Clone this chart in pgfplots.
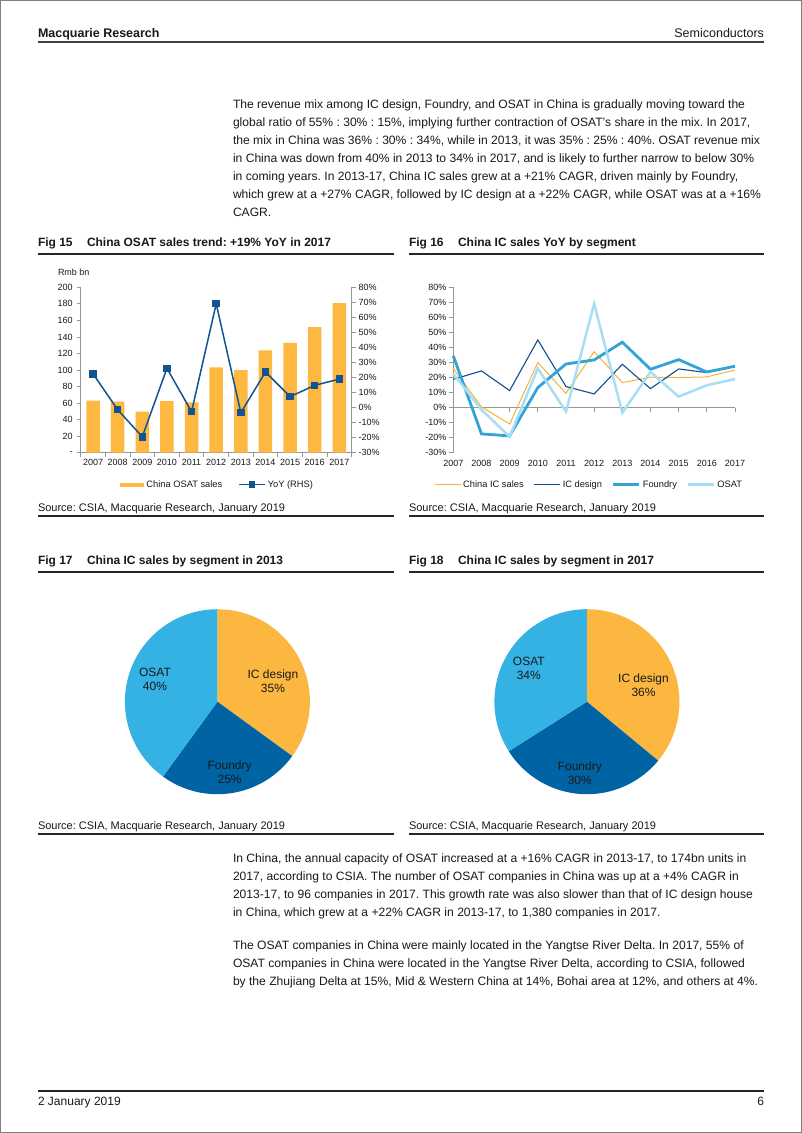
\documentclass[border=0pt]{standalone}
\usepackage{fontspec}
\setmainfont{Liberation Sans}
\usepackage{pgfplots}
\usepackage{pgfplotstable}
\pgfplotsset{compat=1.18}
\frenchspacing

\definecolor{barorange}{RGB}{252,184,64}
\definecolor{yoyblue}{RGB}{18,84,145}
\definecolor{icsorange}{RGB}{246,178,60}
\definecolor{icdblue}{RGB}{18,78,140}
\definecolor{fdyblue}{RGB}{50,165,215}
\definecolor{osatblue}{RGB}{165,222,245}
\definecolor{pieorange}{RGB}{252,183,64}
\definecolor{piedark}{RGB}{0,99,163}
\definecolor{pielight}{RGB}{52,178,228}
\definecolor{axgray}{RGB}{150,150,150}
\definecolor{txt}{RGB}{25,25,25}

\pgfplotstableread{
year sales yoy
2007 62.9 22.5
2008 61.7 -1.4
2009 49.6 -19.4
2010 62.5 26.1
2011 60.9 -2.7
2012 103.2 69.1
2013 100.0 -3.4
2014 123.8 23.7
2015 132.7 7.3
2016 152.0 14.8
2017 181.0 19.0
}\osattab

\pgfplotstableread{
year ics icd fdy osat
2007 26.0 18.8 34.4 22.5
2008 0.5 24.4 -17.5 -1.4
2009 -10.9 11.3 -18.8 -19.4
2010 30.0 45.0 13.3 26.1
2011 9.5 14.0 29.0 -2.7
2012 37.2 9.1 31.7 69.1
2013 16.6 28.8 43.5 -3.4
2014 20.2 12.6 25.5 23.7
2015 20.0 25.7 31.9 7.3
2016 20.4 23.3 23.7 14.8
2017 25.0 27.9 27.5 19.0
}\segtab

\newcommand{\bodyfont}{\fontsize{12.1}{18}\selectfont}
\newcommand{\titlefont}{\fontsize{12}{14}\selectfont\bfseries}
\newcommand{\srcfont}{\fontsize{11}{13}\selectfont}
\newcommand{\tickfont}{\fontsize{9}{11}\selectfont}
\newcommand{\legfont}{\fontsize{9.3}{11}\selectfont}

\pgfplotsset{
  commonax/.style={
    scale only axis,
    tick label style={font=\tickfont, text=txt},
    axis line style={axgray, line width=0.8pt},
    tick style={axgray, line width=0.8pt},
    tick align=outside,
    major tick length=4pt,
    minor tick length=4pt,
  },
}

\begin{document}
\begin{tikzpicture}[x=1pt,y=1pt, every node/.style={inner sep=0pt, outer sep=0pt, text=txt}]
% page
\fill[white] (0,0) rectangle (802,-1133);
\draw[gray, line width=1pt] (0.5,-0.5) rectangle (801.5,-1132.5);

% header
\node[anchor=base west, font=\fontsize{12.5}{14}\selectfont\bfseries] at (38,-37.5) {Macquarie Research};
\node[anchor=base east, font=\fontsize{12.5}{14}\selectfont] at (764,-37.5) {Semiconductors};
\draw[black!75, line width=1.5pt] (38,-42) -- (764,-42);

% paragraph 1
\begin{scope}[every node/.append style={anchor=base west, font=\bodyfont}]
\node at (233,-108.3) {The revenue mix among IC design, Foundry, and OSAT in China is gradually moving toward the};
\node at (233,-126.3) {global ratio of 55\% : 30\% : 15\%, implying further contraction of OSAT’s share in the mix. In 2017,};
\node at (233,-144.3) {the mix in China was 36\% : 30\% : 34\%, while in 2013, it was 35\% : 25\% : 40\%. OSAT revenue mix};
\node at (233,-162.3) {in China was down from 40\% in 2013 to 34\% in 2017, and is likely to further narrow to below 30\%};
\node at (233,-180.3) {in coming years. In 2013-17, China IC sales grew at a +21\% CAGR, driven mainly by Foundry,};
\node at (233,-198.3) {which grew at a +27\% CAGR, followed by IC design at a +22\% CAGR, while OSAT was at a +16\%};
\node at (233,-216.3) {CAGR.};
% paragraph 2
\node at (233,-862.3) {In China, the annual capacity of OSAT increased at a +16\% CAGR in 2013-17, to 174bn units in};
\node at (233,-880.3) {2017, according to CSIA. The number of OSAT companies in China was up at a +4\% CAGR in};
\node at (233,-898.3) {2013-17, to 96 companies in 2017. This growth rate was also slower than that of IC design house};
\node at (233,-916.3) {in China, which grew at a +22\% CAGR in 2013-17, to 1,380 companies in 2017.};
\node at (233,-949.3) {The OSAT companies in China were mainly located in the Yangtse River Delta. In 2017, 55\% of};
\node at (233,-967.3) {OSAT companies in China were located in the Yangtse River Delta, according to CSIA, followed};
\node at (233,-985.3) {by the Zhujiang Delta at 15\%, Mid \& Western China at 14\%, Bohai area at 12\%, and others at 4\%.};
\end{scope}

% figure titles
\begin{scope}[every node/.append style={anchor=base west, font=\titlefont}]
\node at (38,-246.3) {Fig 15};
\node at (87,-246.3) {China OSAT sales trend: +19\% YoY in 2017};
\node at (409,-246.3) {Fig 16};
\node at (458,-246.3) {China IC sales YoY by segment};
\node at (38,-564.3) {Fig 17};
\node at (87,-564.3) {China IC sales by segment in 2013};
\node at (409,-564.3) {Fig 18};
\node at (458,-564.3) {China IC sales by segment in 2017};
\end{scope}
\draw[black!85, line width=1.2pt] (38,-254) -- (394,-254);
\draw[black!85, line width=1.2pt] (409,-254) -- (764,-254);
\draw[black!85, line width=1.2pt] (38,-572) -- (394,-572);
\draw[black!85, line width=1.2pt] (409,-572) -- (764,-572);

% sources
\begin{scope}[every node/.append style={anchor=base west, font=\srcfont}]
\node at (38,-511) {Source: CSIA, Macquarie Research, January 2019};
\node at (409,-511) {Source: CSIA, Macquarie Research, January 2019};
\node at (38,-829) {Source: CSIA, Macquarie Research, January 2019};
\node at (409,-829) {Source: CSIA, Macquarie Research, January 2019};
\end{scope}
\draw[black!85, line width=1.2pt] (38,-516) -- (394,-516);
\draw[black!85, line width=1.2pt] (409,-516) -- (764,-516);
\draw[black!85, line width=1.2pt] (38,-834) -- (394,-834);
\draw[black!85, line width=1.2pt] (409,-834) -- (764,-834);

% footer
\draw[black!85, line width=1.2pt] (38,-1091) -- (764,-1091);
\node[anchor=base west, font=\fontsize{12}{14}\selectfont] at (38,-1105) {2 January 2019};
\node[anchor=base east, font=\fontsize{12}{14}\selectfont] at (764,-1105) {6};

% ---------------- Fig 15 ----------------
\node[anchor=west, font=\tickfont] at (58,-272) {Rmb bn};
\begin{axis}[commonax,
  at={(80.7pt,-452.7pt)}, anchor=south west,
  width=271pt, height=165.4pt,
  xmin=2006.5, xmax=2017.5, ymin=0, ymax=200,
  axis x line*=bottom, axis y line*=left,
  xtick={2007,2008,2009,2010,2011,2012,2013,2014,2015,2016,2017},
  xticklabels={2007,2008,2009,2010,2011,2012,2013,2014,2015,2016,2017},
  xticklabel style={yshift=-3pt},
  yticklabel style={xshift=-4pt},
  major x tick style={draw=none},
  minor xtick={2006.5,2007.5,2008.5,2009.5,2010.5,2011.5,2012.5,2013.5,2014.5,2015.5,2016.5,2017.5},
  ytick={0,20,40,60,80,100,120,140,160,180,200},
  yticklabels={-,20,40,60,80,100,120,140,160,180,200},
  legend columns=2,
  legend style={draw=none, fill=none, font=\legfont, at={(0.5,0)}, anchor=center, xshift=1.5pt, yshift=-32pt,
    /tikz/every even column/.append style={column sep=14pt}},
  legend cell align=left,
]
\addplot[ybar, bar width=13.5pt, fill=barorange, draw=none,
  legend image code/.code={\fill[barorange] (0pt,-2pt) rectangle (24pt,2pt);}]
  table[x=year, y=sales]{\osattab};
\addlegendentry{China OSAT sales}
\addlegendimage{yoyblue, line width=1.5pt, mark=square*, mark size=2.5pt,
  legend image code/.code={\draw[mark repeat=2, mark phase=2] plot coordinates {(0pt,0pt) (13pt,0pt) (26pt,0pt)};}}
\addlegendentry{YoY (RHS)}
\end{axis}
\begin{axis}[commonax,
  at={(80.7pt,-452.7pt)}, anchor=south west,
  width=271pt, height=165.4pt,
  xmin=2006.5, xmax=2017.5, ymin=-30, ymax=80,
  axis x line=none, axis y line*=right,
  yticklabel style={xshift=3pt},
  ytick={-30,-20,-10,0,10,20,30,40,50,60,70,80},
  yticklabels={-30\%,-20\%,-10\%,0\%,10\%,20\%,30\%,40\%,50\%,60\%,70\%,80\%},
]
\addplot[yoyblue, line width=1.5pt, mark=square*, mark size=3pt] table[x=year, y=yoy]{\osattab};
\end{axis}

% ---------------- Fig 16 ----------------
\begin{axis}[commonax,
  at={(453.3pt,-452.7pt)}, anchor=south west,
  width=281.7pt, height=165.4pt,
  xmin=2007, xmax=2017, ymin=-30, ymax=80,
  axis x line*=middle, axis y line*=left,
  hide obscured x ticks=false,
  x axis line style={-},
  xtick={2007,2008,2009,2010,2011,2012,2013,2014,2015,2016,2017},
  xticklabels={2007,2008,2009,2010,2011,2012,2013,2014,2015,2016,2017},
  xticklabel style={yshift=-49pt},
  yticklabel style={xshift=-3pt},
  ytick={-30,-20,-10,0,10,20,30,40,50,60,70,80},
  yticklabels={-30\%,-20\%,-10\%,0\%,10\%,20\%,30\%,40\%,50\%,60\%,70\%,80\%},
  legend columns=4,
  legend style={draw=none, fill=none, font=\legfont, at={(0.5,0)}, anchor=center, xshift=-5pt, yshift=-32pt,
    /tikz/every even column/.append style={column sep=8pt}},
  legend image code/.code={\draw (0pt,0pt) -- (26pt,0pt);},
  clip=false,
]
\addplot[icsorange, line width=1pt] table[x=year, y=ics]{\segtab};
\addlegendentry{China IC sales}
\addplot[icdblue, line width=1.1pt] table[x=year, y=icd]{\segtab};
\addlegendentry{IC design}
\addplot[fdyblue, line width=2.8pt] table[x=year, y=fdy]{\segtab};
\addlegendentry{Foundry}
\addplot[osatblue, line width=2.5pt] table[x=year, y=osat]{\segtab};
\addlegendentry{OSAT}
\end{axis}

% ---------------- Fig 17 ----------------
\begin{axis}[at={(217.4pt,-701.7pt)}, anchor=center, scale only axis, width=185pt, height=185pt,
  xmin=-1, xmax=1, ymin=-1, ymax=1, hide axis, clip=false]
\fill[pieorange] (axis cs:0,0) -- (axis cs:0,1) arc[start angle=90, end angle=-36, radius=1] -- cycle;
\fill[piedark] (axis cs:0,0) -- ({cos(-36)},{sin(-36)}) arc[start angle=-36, end angle=-126, radius=1] -- cycle;
\fill[pielight] (axis cs:0,0) -- ({cos(-126)},{sin(-126)}) arc[start angle=-126, end angle=-270, radius=1] -- cycle;
\node[align=center, font=\fontsize{12}{14}\selectfont] at (axis cs:-0.675,0.245) {OSAT\\40\%};
\node[align=center, font=\fontsize{12}{14}\selectfont] at (axis cs:0.601,0.218) {IC design\\35\%};
\node[align=center, font=\fontsize{12}{14}\selectfont] at (axis cs:0.132,-0.765) {Foundry\\25\%};
\end{axis}

% ---------------- Fig 18 ----------------
\begin{axis}[at={(586.9pt,-701.7pt)}, anchor=center, scale only axis, width=185pt, height=185pt,
  xmin=-1, xmax=1, ymin=-1, ymax=1, hide axis, clip=false]
\fill[pieorange] (axis cs:0,0) -- (axis cs:0,1) arc[start angle=90, end angle=-39.6, radius=1] -- cycle;
\fill[piedark] (axis cs:0,0) -- ({cos(-39.6)},{sin(-39.6)}) arc[start angle=-39.6, end angle=-147.6, radius=1] -- cycle;
\fill[pielight] (axis cs:0,0) -- ({cos(-147.6)},{sin(-147.6)}) arc[start angle=-147.6, end angle=-270, radius=1] -- cycle;
\node[align=center, font=\fontsize{12}{14}\selectfont] at (axis cs:-0.628,0.364) {OSAT\\34\%};
\node[align=center, font=\fontsize{12}{14}\selectfont] at (axis cs:0.612,0.181) {IC design\\36\%};
\node[align=center, font=\fontsize{12}{14}\selectfont] at (axis cs:-0.077,-0.776) {Foundry\\30\%};
\end{axis}
\end{tikzpicture}
\end{document}
